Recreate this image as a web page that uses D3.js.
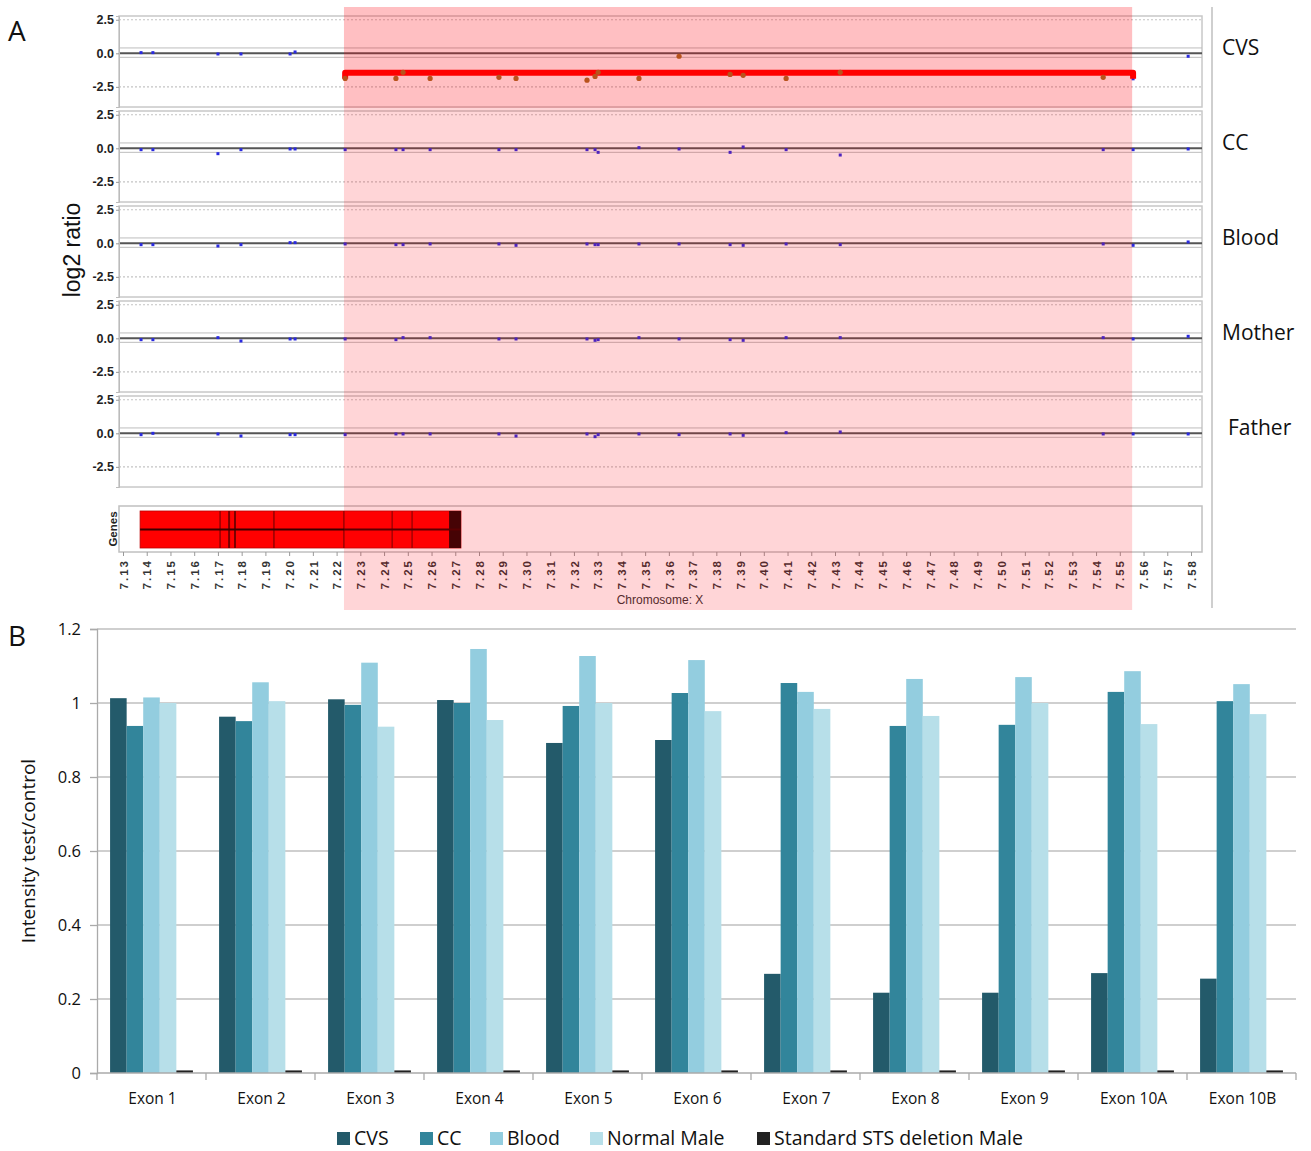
<!DOCTYPE html>
<html><head><meta charset="utf-8">
<script src="https://cdn.jsdelivr.net/npm/d3@7"></script>
<style>body{margin:0;background:#fff}</style>
</head><body>
<svg id="chart" width="1311" height="1151"></svg>
<script>
// ================= Panel A data =================
const sampleNames = ["CVS", "CC", "Blood", "Mother", "Father"];
const probePos = [7.1376, 7.1426, 7.1700, 7.1797, 7.2004, 7.2025, 7.2236, 7.2450, 7.2480, 7.2594, 7.2884, 7.2956,
                  7.3255, 7.3289, 7.3302, 7.3474, 7.3643, 7.3858, 7.3913, 7.4094, 7.4322, 7.5430, 7.5556, 7.5788];
const cvsLog2    = [0.05, 0.05, -0.05, -0.05, -0.05, 0.1, -1.87, -1.87, -1.42, -1.87, -1.79, -1.87,
                    -2.0, -1.72, -1.42, -1.87, -0.22, -1.57, -1.64, -1.87, -1.42, -1.79, -1.9, -0.22];
const ccLog2     = [-0.1, -0.1, -0.4, -0.1, -0.05, -0.05, -0.1, -0.1, -0.1, -0.1, -0.1, -0.1,
                    -0.1, -0.1, -0.3, 0.05, -0.05, -0.3, 0.1, -0.1, -0.5, -0.1, -0.1, -0.05];
const bloodLog2  = [-0.1, -0.1, -0.2, -0.1, 0.05, 0.05, -0.05, -0.1, -0.1, -0.05, -0.05, -0.15,
                    -0.05, -0.1, -0.1, -0.05, -0.05, -0.1, -0.15, -0.05, -0.1, -0.05, -0.15, 0.1];
const motherLog2 = [-0.1, -0.1, 0.05, -0.2, -0.05, -0.05, -0.05, -0.1, 0.05, 0.05, -0.05, -0.05,
                    -0.05, -0.15, -0.1, 0.05, -0.05, -0.1, -0.15, 0.05, 0.05, 0.05, -0.05, 0.15];
const fatherLog2 = [-0.1, 0.0, -0.05, -0.2, -0.1, -0.1, -0.1, -0.05, -0.05, -0.05, -0.05, -0.2,
                    -0.05, -0.25, -0.1, -0.05, -0.1, -0.05, -0.15, 0.05, 0.1, -0.05, -0.05, -0.05];
const sampleLog2 = [cvsLog2, ccLog2, bloodLog2, motherLog2, fatherLog2];
const deletedSample = "CVS";
const log2Ticks = [2.5, 0.0, -2.5];
const chromTicks = [7.13, 7.14, 7.15, 7.16, 7.17, 7.18, 7.19, 7.20, 7.21, 7.22, 7.23, 7.24, 7.25, 7.26, 7.27,
                    7.28, 7.29, 7.30, 7.31, 7.32, 7.33, 7.34, 7.35, 7.36, 7.37, 7.38, 7.39, 7.40, 7.41, 7.42,
                    7.43, 7.44, 7.45, 7.46, 7.47, 7.48, 7.49, 7.50, 7.51, 7.52, 7.53, 7.54, 7.55, 7.56, 7.57, 7.58];
const deletionRegion = [7.2231, 7.5552];
const segmentSpan = [7.2236, 7.5556];
const segmentValue = -1.45;
const segmentHookValue = -1.9;
const geneSpan = [7.1372, 7.2724];
const geneEndBlock = [7.2674, 7.2724];
const geneExonPos = [7.1709, 7.1747, 7.1772, 7.1936, 7.2231, 7.2434, 7.2518];

// ================= Panel B data =================
const exons = ["Exon 1", "Exon 2", "Exon 3", "Exon 4", "Exon 5", "Exon 6", "Exon 7", "Exon 8", "Exon 9", "Exon 10A", "Exon 10B"];
const seriesNames = ["CVS", "CC", "Blood", "Normal Male", "Standard STS deletion Male"];
const cvsVals    = [1.013, 0.963, 1.010, 1.008, 0.892, 0.900, 0.268, 0.217, 0.217, 0.270, 0.255];
const ccVals     = [0.938, 0.951, 0.995, 1.000, 0.992, 1.027, 1.054, 0.938, 0.941, 1.030, 1.005];
const bloodVals  = [1.015, 1.056, 1.109, 1.146, 1.127, 1.116, 1.030, 1.065, 1.070, 1.086, 1.051];
const normalVals = [1.000, 1.005, 0.936, 0.954, 1.000, 0.978, 0.984, 0.965, 1.000, 0.943, 0.970];
const stsVals    = [0.007, 0.007, 0.007, 0.007, 0.007, 0.007, 0.007, 0.007, 0.007, 0.007, 0.007];
const seriesVals = [cvsVals, ccVals, bloodVals, normalVals, stsVals];
const seriesColors = ["#235a6a", "#32859b", "#93cddf", "#b7dfe9", "#222222"];
const yTicksB = [0, 0.2, 0.4, 0.6, 0.8, 1, 1.2];

// ================= Drawing =================
const svg = d3.select("#chart");
const sansA = "Liberation Sans, Arial, sans-serif";
const sansB = "Open Sans, Lato, sans-serif";

// ---- Panel A ----
const xA = d3.scaleLinear().domain([7.13, 7.58]).range([123, 1191]);
const boxL = 119, boxR = 1202, panelH = 91, panelPitch = 95, panelTop0 = 16;
const gA = svg.append("g");

svg.append("text").attr("x", 8).attr("y", 41).text("A")
  .attr("font-family", sansB).attr("font-size", 28).attr("fill", "#111");

const panelY = sampleNames.map((s, i) => {
  const top = panelTop0 + i * panelPitch;
  return d3.scaleLinear().domain([2.78, -4.0]).range([top, top + panelH]);
});

sampleNames.forEach((s, i) => {
  const y = panelY[i];
  const g = gA.append("g");
  const top = y.range()[0];
  g.append("rect").attr("x", boxL).attr("y", top).attr("width", boxR - boxL).attr("height", panelH)
    .attr("fill", "#fff").attr("stroke", "#c8c8c8").attr("stroke-width", 1.5);
  [2.5, -2.5].forEach(v => {
    g.append("line").attr("x1", boxL).attr("x2", boxR).attr("y1", y(v)).attr("y2", y(v))
      .attr("stroke", "#c4c4c4").attr("stroke-width", 1.2).attr("stroke-dasharray", "2,2");
  });
  [0.4, -0.3].forEach(v => {
    g.append("line").attr("x1", boxL).attr("x2", boxR).attr("y1", y(v)).attr("y2", y(v))
      .attr("stroke", "#bdbdbd").attr("stroke-width", 1);
  });
  g.append("line").attr("x1", boxL).attr("x2", boxR).attr("y1", y(0)).attr("y2", y(0))
    .attr("stroke", "#555").attr("stroke-width", 2);
  const ax = g.append("g").attr("transform", `translate(${boxL},0)`)
    .call(d3.axisLeft(y).tickValues(log2Ticks).tickFormat(d => d3.format(".1f")(d).replace("−", "-")).tickSize(3).tickPadding(2));
  ax.select(".domain").attr("stroke", "#bbb");
  ax.selectAll(".tick line").attr("stroke", "#999");
  ax.selectAll("text").attr("font-family", sansA).attr("font-size", 12.5).attr("font-weight", "bold").attr("fill", "#222");

  // probe points (normal colour)
  const vals = sampleLog2[i];
  probePos.forEach((p, k) => {
    const inDel = s === deletedSample && p >= deletionRegion[0] && p <= deletionRegion[1];
    if (inDel) return;
    g.append("rect").attr("x", xA(p) - 1.5).attr("y", y(vals[k]) - 1.5).attr("width", 3).attr("height", 3)
      .attr("fill", "#2a2ae0");
  });
});

// Genes track
const genesTop = 506, genesH = 46;
gA.append("rect").attr("x", boxL).attr("y", genesTop).attr("width", boxR - boxL).attr("height", genesH)
  .attr("fill", "#fff").attr("stroke", "#c0c0c0").attr("stroke-width", 1.5);
gA.append("text").attr("transform", `translate(117,${genesTop + genesH / 2}) rotate(-90)`)
  .attr("text-anchor", "middle").text("Genes")
  .attr("font-family", sansA).attr("font-size", 11.5).attr("font-weight", "bold").attr("fill", "#222");
gA.append("rect").attr("x", xA(geneSpan[0])).attr("y", 511).attr("width", xA(geneSpan[1]) - xA(geneSpan[0])).attr("height", 37)
  .attr("fill", "#ff0000").attr("stroke", "#b00").attr("stroke-width", 0.8);
geneExonPos.forEach((p, k) => {
  gA.append("line").attr("x1", xA(p)).attr("x2", xA(p)).attr("y1", 511).attr("y2", 548)
    .attr("stroke", "#7a0000").attr("stroke-width", (k === 1 || k === 2) ? 2 : 1.2);
});
gA.append("rect").attr("x", xA(geneEndBlock[0])).attr("y", 511).attr("width", xA(geneEndBlock[1]) - xA(geneEndBlock[0])).attr("height", 37)
  .attr("fill", "#220404");
gA.append("line").attr("x1", xA(geneSpan[0])).attr("x2", xA(geneSpan[1])).attr("y1", 529.5).attr("y2", 529.5)
  .attr("stroke", "#3a0000").attr("stroke-width", 2);

// chromosome axis
const cax = gA.append("g").attr("transform", `translate(0,${genesTop + genesH})`)
  .call(d3.axisBottom(xA).tickValues(chromTicks).tickFormat(d3.format(".2f")).tickSize(4).tickPadding(3));
cax.select(".domain").remove();
cax.selectAll(".tick line").attr("stroke", "#999");
cax.selectAll("text").attr("transform", "rotate(-90)").attr("text-anchor", "end")
  .attr("x", -7).attr("y", 0).attr("dy", "0.36em")
  .attr("font-family", sansA).attr("font-size", 11.5).attr("font-weight", "bold")
  .attr("letter-spacing", 2).attr("fill", "#333");
gA.append("text").attr("x", 660).attr("y", 604).attr("text-anchor", "middle").text("Chromosome: X")
  .attr("font-family", sansA).attr("font-size", 12).attr("fill", "#333");

// deletion region overlay
const dx0 = xA(deletionRegion[0]), dx1 = xA(deletionRegion[1]);
gA.append("rect").attr("x", dx0).attr("y", 7).attr("width", dx1 - dx0).attr("height", 603)
  .attr("fill", "rgb(255,0,10)").attr("fill-opacity", 0.165);
gA.append("rect").attr("x", dx0).attr("y", 7).attr("width", dx1 - dx0).attr("height", 101)
  .attr("fill", "rgb(255,0,10)").attr("fill-opacity", 0.1);

// CVS segment
const yC = panelY[0];
gA.append("path")
  .attr("d", `M${xA(segmentSpan[0])},${yC(segmentHookValue)} L${xA(segmentSpan[0])},${yC(segmentValue)} L${xA(segmentSpan[1])},${yC(segmentValue)} L${xA(segmentSpan[1])},${yC(segmentHookValue)}`)
  .attr("fill", "none").attr("stroke", "#ff0000").attr("stroke-width", 6).attr("stroke-linejoin", "round");
probePos.forEach((p, k) => {
  if (p >= deletionRegion[0] && p <= deletionRegion[1]) {
    gA.append("circle").attr("cx", xA(p)).attr("cy", yC(cvsLog2[k])).attr("r", 2.6)
      .attr("fill", "#b8531c");
  }
});

// right labels
gA.append("line").attr("x1", 1212).attr("x2", 1212).attr("y1", 7).attr("y2", 608)
  .attr("stroke", "#cfcfcf").attr("stroke-width", 2);
sampleNames.forEach((s, i) => {
  gA.append("text").attr("x", s === "Father" ? 1228 : 1222).attr("y", panelY[i](0) + 2)
    .text(s)
    .attr("font-family", sansB).attr("font-size", 21).attr("fill", "#111");
});
gA.append("text").attr("transform", "translate(80,250) rotate(-90)").attr("text-anchor", "middle")
  .text("log2 ratio").attr("font-family", sansA).attr("font-size", 23).attr("fill", "#111");

// ---- Panel B ----
const gB = svg.append("g");
const xB = d3.scaleBand().domain(exons).range([97, 1296]).paddingInner(0.24).paddingOuter(0.12);
const xSub = d3.scaleBand().domain(seriesNames).range([0, xB.bandwidth()]);
const yB = d3.scaleLinear().domain([0, 1.2]).range([1073, 629]);

svg.append("text").attr("x", 8).attr("y", 646).text("B")
  .attr("font-family", sansB).attr("font-size", 28).attr("fill", "#111");

// gridlines
gB.selectAll(".grid").data(yTicksB.filter(d => d > 0)).enter().append("line")
  .attr("x1", 97).attr("x2", 1296).attr("y1", d => yB(d)).attr("y2", d => yB(d))
  .attr("stroke", "#bfbfbf").attr("stroke-width", 1.3);

// bars
seriesNames.forEach((s, si) => {
  gB.selectAll(".bar" + si).data(exons).enter().append("rect")
    .attr("x", d => xB(d) + xSub(s))
    .attr("y", (d, k) => yB(seriesVals[si][k]))
    .attr("width", xSub.bandwidth())
    .attr("height", (d, k) => yB(0) - yB(seriesVals[si][k]))
    .attr("fill", seriesColors[si]);
});

// y axis
const yax = gB.append("g").attr("transform", "translate(97,0)")
  .call(d3.axisLeft(yB).tickValues(yTicksB).tickFormat(d => d3.format("")(d)).tickSize(7).tickPadding(9));
yax.select(".domain").attr("stroke", "#aaa").attr("stroke-width", 1.3);
yax.selectAll(".tick line").attr("stroke", "#aaa").attr("stroke-width", 1.3);
yax.selectAll("text").attr("font-family", sansB).attr("font-size", 16.5).attr("fill", "#111");

// x axis
gB.append("line").attr("x1", 97).attr("x2", 1296).attr("y1", 1073).attr("y2", 1073)
  .attr("stroke", "#aaa").attr("stroke-width", 1.3);
d3.range(exons.length + 1).forEach(i => {
  const bx = xB.range()[0] + i * xB.step();
  gB.append("line").attr("x1", bx).attr("x2", bx).attr("y1", 1073).attr("y2", 1080)
    .attr("stroke", "#aaa").attr("stroke-width", 1.3);
});
gB.selectAll(".xl").data(exons).enter().append("text")
  .attr("x", d => xB(d) + xB.bandwidth() / 2 + 1).attr("y", 1104).attr("text-anchor", "middle")
  .text(d => d).attr("font-family", sansB).attr("font-size", 15.5).attr("fill", "#111");

gB.append("text").attr("transform", "translate(35,851) rotate(-90)").attr("text-anchor", "middle")
  .text("Intensity test/control").attr("font-family", sansB).attr("font-size", 19).attr("fill", "#111");

// legend
const legX = [337, 420, 490, 590, 757];
seriesNames.forEach((s, si) => {
  gB.append("rect").attr("x", legX[si]).attr("y", 1132).attr("width", 13).attr("height", 13).attr("fill", seriesColors[si]);
  gB.append("text").attr("x", legX[si] + 17).attr("y", 1145).text(s)
    .attr("font-family", sansB).attr("font-size", 19.5).attr("fill", "#111");
});
</script>
</body></html>
